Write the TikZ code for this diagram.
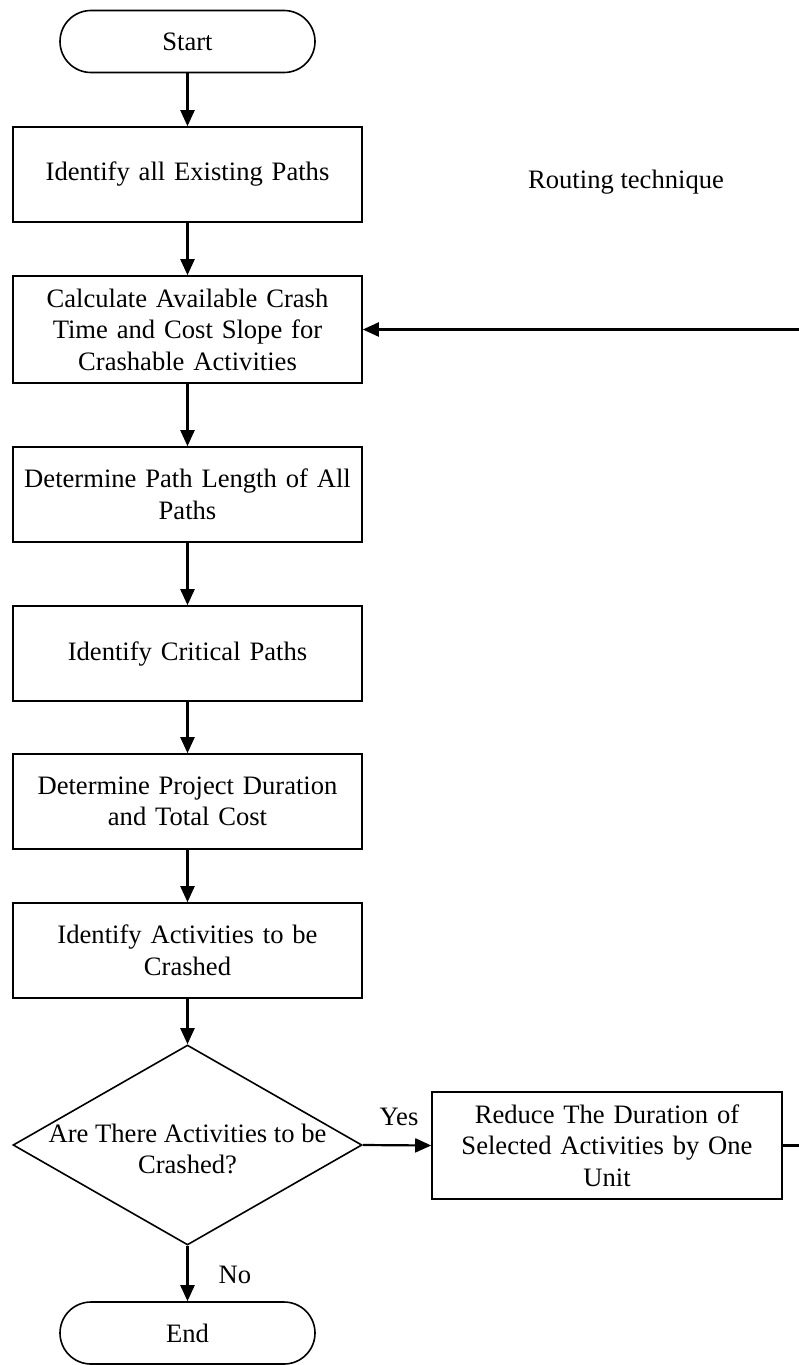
\documentclass[tikz,border=0pt]{standalone}
\usepackage{fontspec}
\setmainfont{Liberation Serif}
\usetikzlibrary{arrows.meta,shapes.geometric}
\begin{document}
\begin{tikzpicture}[x=1pt,y=-1pt,
  every node/.style={font=\fontsize{26.6}{31.5}\selectfont},
  procbox/.style={draw,line width=1.6pt,minimum width=349pt,text width=340pt,align=center,inner sep=0pt},
  terminal/.style={draw,line width=1.6pt,rounded corners=31pt,minimum width=255pt,minimum height=62pt,inner sep=0pt},
  flow/.style={line width=2.2pt,-{Triangle[width=14pt,length=16pt]}},
  plainline/.style={line width=2.2pt}]
  \useasboundingbox (0,0) rectangle (799,1365);
  \clip (0,0) rectangle (799,1365);

  % main column
  \node[terminal] (start) at (187.5,41.5) {Start};
  \node[procbox,minimum height=95pt] (paths) at (187.5,174.5) {Identify all Existing Paths};
  \node[procbox,minimum height=107pt] (calc) at (187.5,329.5) {Calculate Available Crash\\Time and Cost Slope for\\Crashable Activities};
  \node[procbox,minimum height=95pt] (length) at (187.5,494.5) {Determine Path Length of All\\Paths};
  \node[procbox,minimum height=95pt] (crit) at (187.5,653.5) {Identify Critical Paths};
  \node[procbox,minimum height=95pt] (dur) at (187.5,801.5) {Determine Project Duration\\and Total Cost};
  \node[procbox,minimum height=95pt] (ident) at (187.5,950.5) {Identify Activities to be\\Crashed};
  \node[draw,line width=1.6pt,diamond,minimum width=349pt,minimum height=200pt,inner sep=0pt] (dec) at (187.5,1145) {};
  \node[align=center] (dectext) at (187.5,1149) {Are There Activities to be\\Crashed?};
  \node[terminal] (end) at (187.5,1333) {End};

  % side branch
  \node[procbox,minimum width=350pt,minimum height=107pt] (reduce) at (607,1145.5) {Reduce The Duration of\\Selected Activities by One\\Unit};
  \node (routing) at (626,182) {Routing technique};
  \node (yes) at (399,1117) {Yes};
  \node (no) at (235,1275) {No};
  \coordinate (loopbot) at (805,1145.5);
  \coordinate (looptop) at (805,329.5);

  % connectors
  \draw[flow] (start) -- (paths);
  \draw[flow] (paths) -- (calc);
  \draw[flow] (calc) -- (length);
  \draw[flow] (length) -- (crit);
  \draw[flow] (crit) -- (dur);
  \draw[flow] (dur) -- (ident);
  \draw[flow] (ident) -- (dec.north);
  \draw[flow] (dec.south) -- (end);
  \draw[flow] (dec.east) -- (reduce.west);
  \draw[plainline] (reduce.east) -- (loopbot) -- (looptop);
  \draw[flow] (looptop) -- (calc.east);
\end{tikzpicture}
\end{document}
